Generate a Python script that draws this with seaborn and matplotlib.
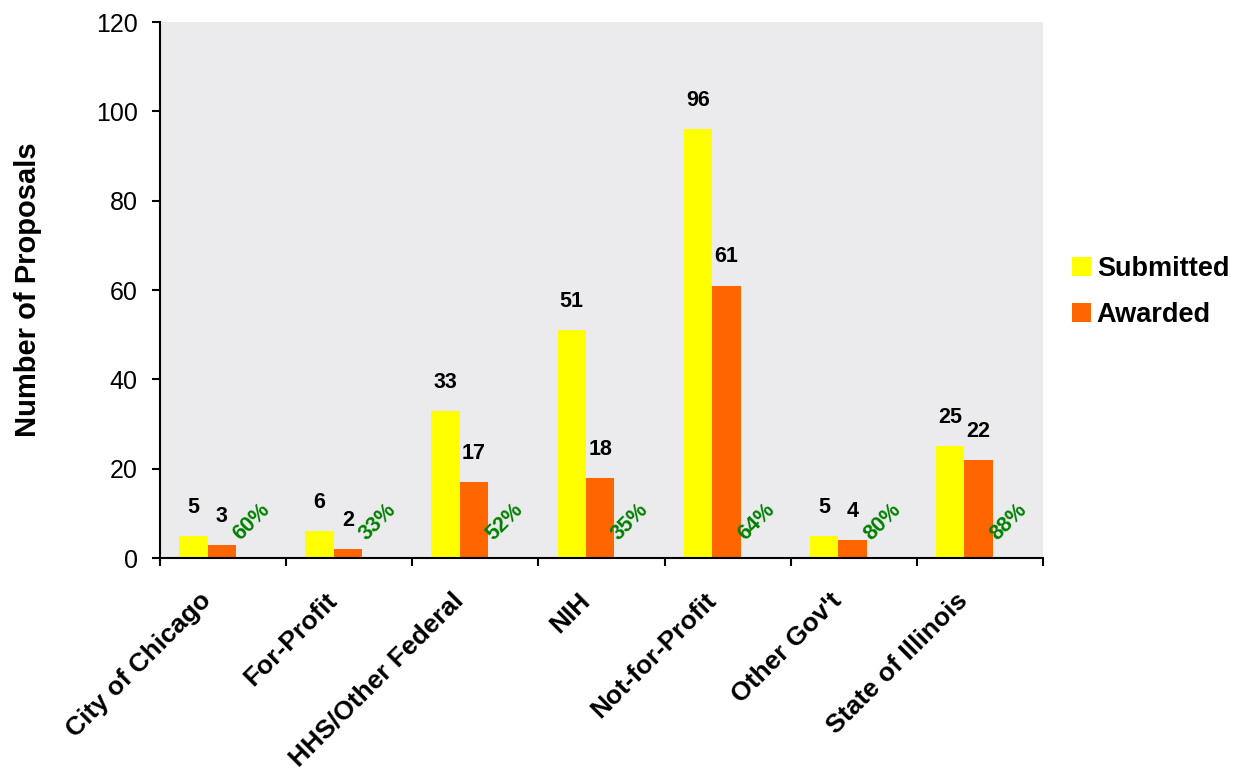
import pandas as pd
import seaborn as sns
import matplotlib.pyplot as plt
from matplotlib.patches import Patch

# Data
categories = ["City of Chicago", "For-Profit", "HHS/Other Federal", "NIH",
              "Not-for-Profit", "Other Gov't", "State of Illinois"]
submitted = [5, 6, 33, 51, 96, 5, 25]
awarded = [3, 2, 17, 18, 61, 4, 22]
series_names = ["Submitted", "Awarded"]
colors = {"Submitted": "#FFFF00", "Awarded": "#FF6600"}

df = pd.DataFrame({
    "Category": categories * 2,
    "Series": ["Submitted"] * len(categories) + ["Awarded"] * len(categories),
    "Proposals": submitted + awarded,
})

sns.set_style("ticks")
plt.rcParams["font.family"] = ["Liberation Sans", "DejaVu Sans"]
plt.rcParams["text.color"] = "black"
plt.rcParams["axes.labelcolor"] = "black"
plt.rcParams["xtick.color"] = "black"
plt.rcParams["ytick.color"] = "black"

fig = plt.figure(figsize=(12.35, 7.7), dpi=100)
ax = fig.add_axes([160 / 1235, 1 - 558 / 770, 883 / 1235, 536 / 770])
ax.set_facecolor("#ebebed")

sns.barplot(data=df, x="Category", y="Proposals", hue="Series",
            hue_order=series_names, palette=colors, width=0.45,
            saturation=1, legend=False, edgecolor="none", linewidth=0, ax=ax)

# value labels above bars
for cont in ax.containers:
    ax.bar_label(cont, padding=13, fontsize=15.5, fontweight="bold", color="black")

# success rate labels next to the awarded bars
aw_bars = ax.containers[1]
for bar, s, a in zip(aw_bars, submitted, awarded):
    pct = round(a / s * 100)
    ax.annotate(f"{pct}%", xy=(bar.get_x() + bar.get_width(), 0),
                xytext=(11.5, 26), textcoords="offset points",
                ha="center", va="center", rotation=45,
                fontsize=15.5, fontweight="bold", color="#008000")

ax.set_ylim(0, 120)
ax.set_yticks(range(0, 121, 20))
ax.set_xlim(-0.377, 6.623)

# category labels at group centres, tick marks at group boundaries
ax.set_xticks(range(len(categories)))
ax.set_xticklabels(categories, rotation=45, ha="right", va="center",
                   rotation_mode="anchor", fontsize=19, fontweight="bold")
ax.set_xticks([-0.377 + k for k in range(len(categories) + 1)], minor=True)
ax.tick_params(axis="x", which="major", length=0, pad=28)
ax.tick_params(axis="x", which="minor", length=6, width=1.5, direction="out")
ax.tick_params(axis="y", length=6, width=1.5, direction="out", labelsize=18, pad=10)

ax.set_xlabel("")
ax.set_ylabel("Number of Proposals", fontsize=21, fontweight="bold")
ax.yaxis.set_label_coords(-0.134, 0.5)

for side in ["top", "right"]:
    ax.spines[side].set_visible(False)
for side in ["left", "bottom"]:
    ax.spines[side].set_color("black")
    ax.spines[side].set_linewidth(1.5)

handles = [Patch(facecolor=colors[n], edgecolor="none") for n in series_names]
fig.legend(handles, series_names, loc="center left",
           bbox_to_anchor=(1048 / 1235, 1 - 292 / 770), frameon=False,
           prop={"size": 19.5, "weight": "bold"}, handlelength=0.7,
           handleheight=0.7, handletextpad=0.2, labelspacing=0.75)

fig.savefig("out.png", dpi=100)
